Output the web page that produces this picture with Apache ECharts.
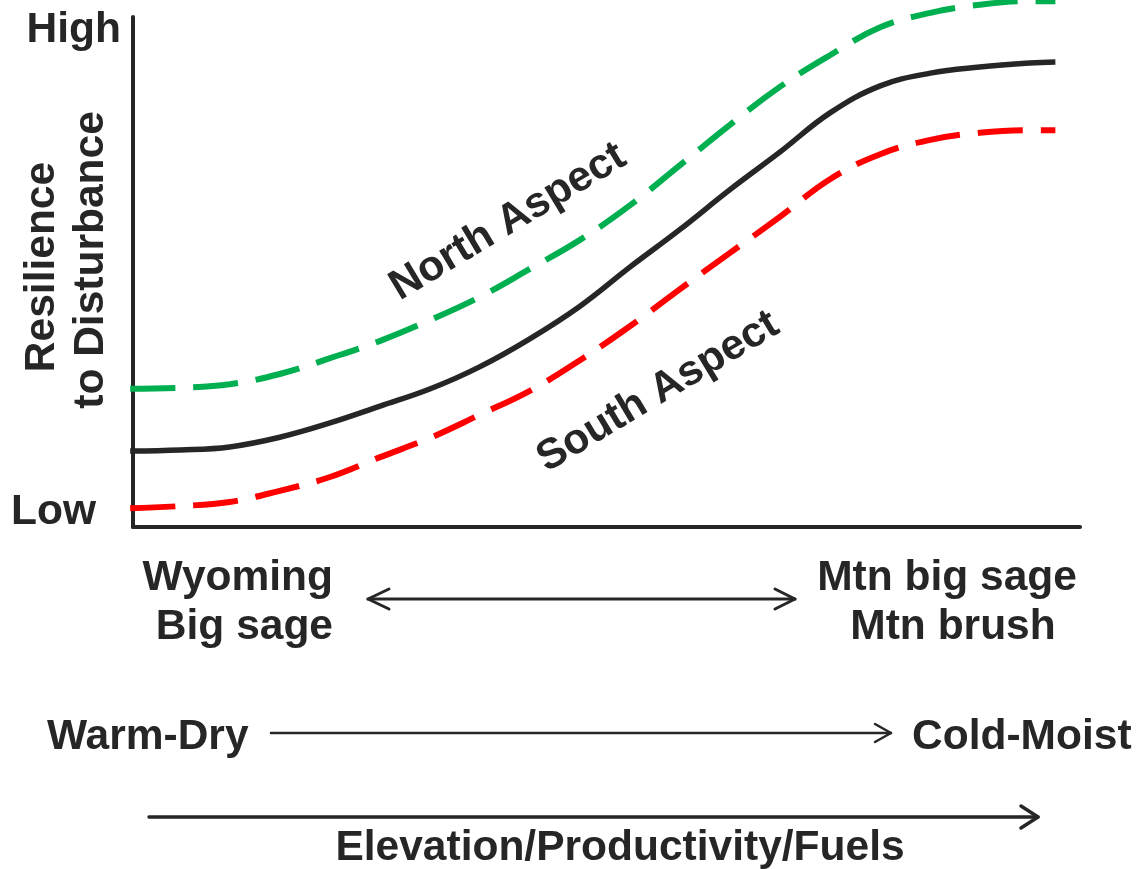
<!DOCTYPE html>
<html><head><meta charset="utf-8">
<script src="https://cdn.jsdelivr.net/npm/echarts@6/dist/echarts.min.js"></script>
<style>html,body{margin:0;padding:0;background:#fff}#c{width:1136px;height:869px}</style>
</head><body><div id="c"></div>
<script>
// Conceptual scales: x = position along gradient (0-100), y = resilience (0-100)
const gradientX = [-0.3, 5.0, 10.2, 15.5, 20.8, 26.1, 31.4, 36.6, 41.9, 47.2, 52.5, 57.8, 63.0, 68.3, 73.6, 78.9, 84.2, 89.4, 94.7, 97.4];
const averageY  = [14.9, 15.1, 15.7, 17.6, 20.4, 23.7, 27.1, 31.4, 36.9, 43.3, 51.0, 58.4, 66.1, 73.5, 81.2, 86.5, 89.0, 90.2, 91.0, 91.2];
const northY    = [27.1, 27.3, 28.0, 30.0, 33.1, 36.5, 40.6, 45.1, 50.6, 56.3, 63.1, 71.0, 78.8, 86.3, 92.5, 98.0, 100.8, 102.4, 103.1, 103.1];
const southY    = [3.7, 4.1, 4.9, 7.1, 9.8, 13.7, 17.5, 22.0, 26.7, 32.7, 39.4, 46.7, 53.7, 60.8, 68.2, 73.1, 75.9, 77.3, 77.8, 77.8];

const yTickLabels = ['Low', 'High'];
const yTitle = ['Resilience', 'to Disturbance'];
const leftType = ['Wyoming', 'Big sage'];
const rightType = ['Mtn big sage', 'Mtn brush'];
const climate = ['Warm-Dry', 'Cold-Moist'];
const gradientTitle = 'Elevation/Productivity/Fuels';
const curveLabels = ['North Aspect', 'South Aspect'];

const zip = (a, b) => a.map((v, i) => [v, b[i]]);
const INK = '#262626';
const FONT = 'Liberation Sans, Arial, sans-serif';
const F = 42.5;

function txt(str, x, y, align, rot) {
  return { type: 'text', x: x, y: y, rotation: rot || 0,
    style: { text: str, font: 'bold ' + F + 'px ' + FONT, fill: INK, align: align, verticalAlign: 'middle' } };
}
function pl(points, w) {
  return { type: 'polyline', shape: { points: points },
    style: { stroke: INK, lineWidth: w, fill: null, lineCap: 'round', lineJoin: 'round' } };
}
const ang = 31 * Math.PI / 180;

const chart = echarts.init(document.getElementById('c'), null, { renderer: 'canvas' });
chart.setOption({
  animation: false,
  backgroundColor: '#fff',
  grid: { left: 133, right: 56, top: 17, bottom: 342 },
  xAxis: { type: 'value', min: 0, max: 100, axisLine: { show: true, onZero: false, lineStyle: { color: INK, width: 4 } },
    axisTick: { show: false }, axisLabel: { show: false }, splitLine: { show: false } },
  yAxis: { type: 'value', min: 0, max: 100, axisLine: { show: true, onZero: false, lineStyle: { color: INK, width: 4 } },
    axisTick: { show: false }, axisLabel: { show: false }, splitLine: { show: false } },
  series: [
    { type: 'line', data: zip(gradientX, northY), smooth: 0.4, symbol: 'none', clip: false,
      lineStyle: { color: '#00B050', width: 6, type: [45, 18], cap: 'butt' } },
    { type: 'line', data: zip(gradientX, averageY), smooth: 0.4, symbol: 'none', clip: false,
      lineStyle: { color: INK, width: 5.5 } },
    { type: 'line', data: zip(gradientX, southY), smooth: 0.4, symbol: 'none', clip: false,
      lineStyle: { color: '#FF0000', width: 6, type: [45, 18], cap: 'butt' } }
  ],
  graphic: [
    txt(yTickLabels[1], 121, 30, 'right'),
    txt(yTickLabels[0], 96, 512, 'right'),
    txt(yTitle[0], 42, 267, 'center', Math.PI / 2),
    txt(yTitle[1], 91, 260, 'center', Math.PI / 2),
    txt(curveLabels[0], 508, 222, 'center', ang),
    txt(curveLabels[1], 658, 392, 'center', ang),
    txt(leftType[0], 333, 578, 'right'),
    txt(leftType[1], 333, 627, 'right'),
    txt(rightType[0], 947, 578, 'center'),
    txt(rightType[1], 953, 627, 'center'),
    txt(climate[0], 47, 737, 'left'),
    txt(climate[1], 912, 737, 'left'),
    txt(gradientTitle, 620, 848, 'center'),
    pl([[368, 599], [795, 599]], 3),
    pl([[389, 589], [368, 599], [389, 609]], 3),
    pl([[775, 589], [795, 599], [775, 609]], 3),
    pl([[271, 733], [891, 733]], 2.5),
    pl([[875, 724], [891, 733], [875, 742]], 2.5),
    pl([[149, 817], [1038, 817]], 3.5),
    pl([[1021, 806], [1038, 817], [1021, 828]], 3.5)
  ]
});
</script></body></html>
